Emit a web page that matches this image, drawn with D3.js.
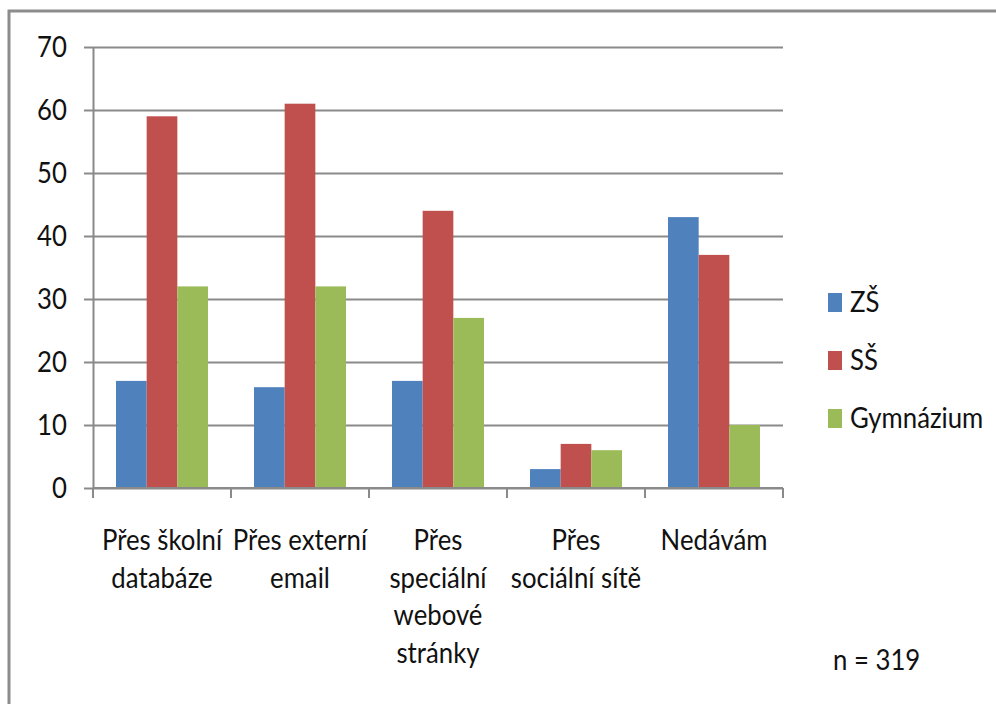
<!DOCTYPE html>
<html>
<head>
<meta charset="utf-8">
<script src="https://cdn.jsdelivr.net/npm/d3@7"></script>
<style>
  body { margin: 0; background: #fff; }
  text { font-family: Lato, "Open Sans", sans-serif; fill: #111; }
</style>
</head>
<body>
<script>
const categories = [
  ['Přes školní', 'databáze'],
  ['Přes externí', 'email'],
  ['Přes', 'speciální', 'webové', 'stránky'],
  ['Přes', 'sociální sítě'],
  ['Nedávám']
];
const seriesNames = ['ZŠ', 'SŠ', 'Gymnázium'];
const zsValues = [17, 16, 17, 3, 43];
const ssValues = [59, 61, 44, 7, 37];
const gymValues = [32, 32, 27, 6, 10];
const yTicks = [0, 10, 20, 30, 40, 50, 60, 70];
const colors = ['#4f81bd', '#c0504d', '#9bbb59'];

const width = 996;
const height = 704;
const plot = { left: 93, right: 783, top: 47, bottom: 488 };
const fontSize = 28;
const squeeze = 0.92; // text in the source is narrower than it is tall

const svg = d3.select('body').append('svg')
  .attr('width', width)
  .attr('height', height);

// outer chart frame (runs off the picture at right and bottom)
svg.append('rect')
  .attr('x', 9).attr('y', 11)
  .attr('width', 1100).attr('height', 800)
  .attr('fill', 'none')
  .attr('stroke', '#8c8c8c')
  .attr('stroke-width', 3);

const x = d3.scaleBand()
  .domain(d3.range(categories.length))
  .range([plot.left, plot.right]);

const xs = d3.scaleBand()
  .domain(d3.range(seriesNames.length))
  .range([0, x.bandwidth()])
  .paddingOuter(0.75);

const y = d3.scaleLinear()
  .domain([0, 70])
  .range([plot.bottom, plot.top]);

// grid lines
svg.append('g')
  .attr('transform', `translate(${plot.left},0)`)
  .call(d3.axisLeft(y).tickValues(yTicks).tickSize(-(plot.right - plot.left)).tickFormat(''))
  .call(g => g.select('.domain').remove())
  .call(g => g.selectAll('line').attr('stroke', '#8a8a8a').attr('stroke-width', 2));

// y axis with labels
svg.append('g')
  .attr('transform', `translate(${plot.left},0)`)
  .call(d3.axisLeft(y).tickValues(yTicks).tickSize(9).tickSizeOuter(0).tickFormat(''))
  .call(g => g.select('.domain').attr('stroke', '#8a8a8a').attr('stroke-width', 2))
  .call(g => g.selectAll('line').attr('stroke', '#8a8a8a').attr('stroke-width', 2));

svg.append('g').selectAll('text')
  .data(yTicks)
  .enter().append('text')
    .attr('transform', d => `translate(67,${y(d)}) scale(${squeeze},1)`)
    .attr('text-anchor', 'end')
    .attr('dy', '0.36em')
    .attr('font-size', fontSize)
    .text(d => d);

// bars
const seriesData = [zsValues, ssValues, gymValues];
seriesData.forEach((vals, si) => {
  svg.append('g').selectAll('rect')
    .data(vals)
    .enter().append('rect')
      .attr('x', (d, i) => x(i) + xs(si))
      .attr('width', xs.bandwidth())
      .attr('y', d => y(d))
      .attr('height', d => y(0) - y(d))
      .attr('fill', colors[si]);
});

// x axis line and boundary ticks
const xAxis = svg.append('g');
xAxis.append('line')
  .attr('x1', plot.left).attr('x2', plot.right)
  .attr('y1', y(0)).attr('y2', y(0))
  .attr('stroke', '#8a8a8a').attr('stroke-width', 2);
const bounds = d3.range(categories.length + 1).map(i => plot.left + i * x.step());
xAxis.selectAll('.tick')
  .data(bounds)
  .enter().append('line')
    .attr('x1', d => d).attr('x2', d => d)
    .attr('y1', y(0)).attr('y2', y(0) + 10)
    .attr('stroke', '#8a8a8a').attr('stroke-width', 2);

// category labels
const labels = svg.append('g').selectAll('text')
  .data(categories)
  .enter().append('text')
    .attr('text-anchor', 'middle')
    .attr('font-size', fontSize)
    .attr('transform', (d, i) => `translate(${x(i) + x.bandwidth() / 2},550) scale(${squeeze},1)`);
labels.selectAll('tspan')
  .data(d => d)
  .enter().append('tspan')
    .attr('x', 0)
    .attr('dy', (d, i) => i === 0 ? 0 : 37.7)
    .text(d => d);

// legend
const legend = svg.append('g').selectAll('g')
  .data(seriesNames)
  .enter().append('g')
    .attr('transform', (d, i) => `translate(828,${312 + i * 58})`);
legend.append('rect')
  .attr('x', 0).attr('y', -19)
  .attr('width', 14).attr('height', 19)
  .attr('fill', (d, i) => colors[i]);
legend.append('text')
  .attr('transform', `translate(22,0) scale(${squeeze},1)`)
  .attr('font-size', fontSize)
  .text(d => d);

// sample size note
svg.append('text')
  .attr('transform', `translate(833,670) scale(${squeeze},1)`)
  .attr('font-size', fontSize)
  .text('n = 319');
</script>
</body>
</html>
